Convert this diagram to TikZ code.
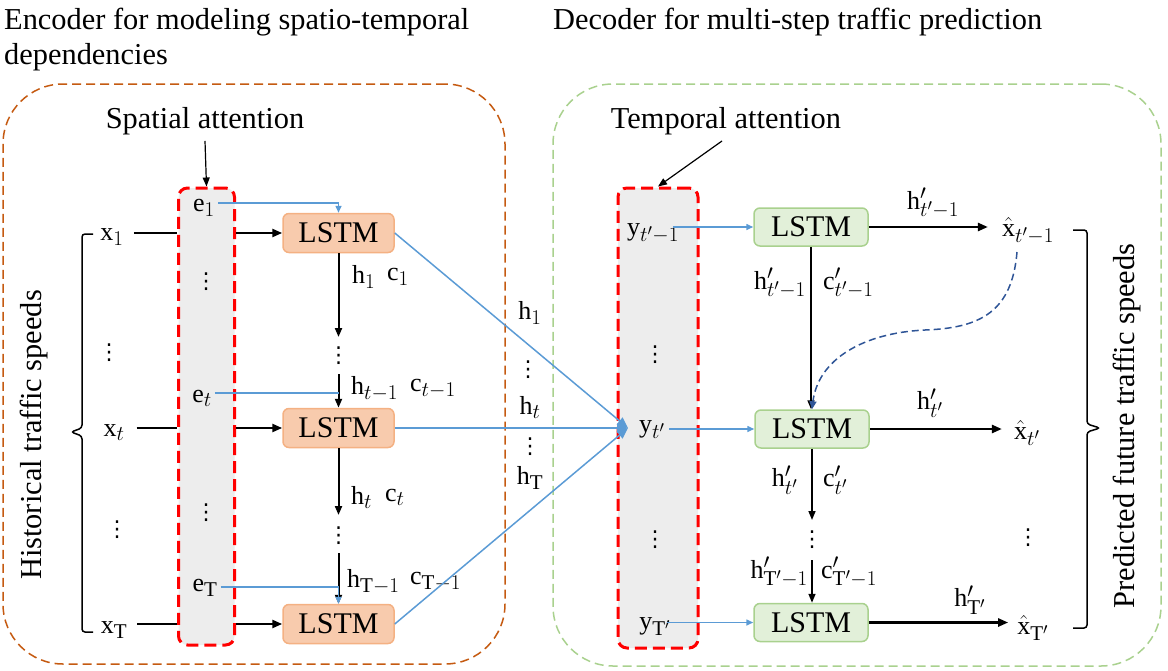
\RequirePackage{fix-cm}
\documentclass[tikz,border=0pt]{standalone}
\usepackage{fontspec}
\setmainfont{Liberation Serif}
\newfontfamily\dejavu{DejaVu Sans}
\usetikzlibrary{arrows.meta,calc}
\DeclareMathSizes{26}{26}{21}{16}
\definecolor{encC}{HTML}{C55A11}
\definecolor{decC}{HTML}{A9D18E}
\definecolor{attC}{HTML}{FF0000}
\definecolor{attF}{HTML}{EDEDED}
\definecolor{lstmOd}{HTML}{F4B183}
\definecolor{lstmOf}{HTML}{F8CBAD}
\definecolor{lstmGd}{HTML}{A9D18E}
\definecolor{lstmGf}{HTML}{E2F0D9}
\definecolor{bluC}{HTML}{5B9BD5}
\definecolor{curC}{HTML}{2F5597}
\newcommand{\myvdots}{{\dejavu\fontsize{22}{26}\selectfont ⋮}}
\begin{document}
\begin{tikzpicture}[x=1pt,y=-1pt,
 lab/.style={font=\fontsize{26}{31}\selectfont, inner sep=0pt},
 txt/.style={font=\fontsize{30.4}{36}\selectfont, inner sep=0pt},
 lstmA/.style={draw=lstmOd, fill=lstmOf, line width=1.5pt, rounded corners=6pt, minimum width=111pt, minimum height=39pt, inner sep=0pt, font=\fontsize{30}{36}\selectfont},
 lstmB/.style={lstmA, draw=lstmGd, fill=lstmGf, minimum width=114pt, minimum height=38pt},
 outerbox/.style={line width=1.5pt, dash pattern=on 9pt off 5pt, rounded corners=60pt, inner sep=0pt},
 attbox/.style={draw=attC, fill=attF, line width=3pt, dash pattern=on 12pt off 6pt, rounded corners=9pt, inner sep=0pt},
 blk/.style={line width=2.4pt, -{Triangle[length=10pt,width=8pt]}},
 blkline/.style={line width=2.4pt},
 vblk/.style={line width=2pt, -{Triangle[length=9pt,width=7pt]}},
 dblk/.style={line width=1.6pt, -{Triangle[length=9pt,width=7pt]}},
 thinarr/.style={line width=1.2pt, -{Triangle[length=9pt,width=7pt]}},
 blu/.style={draw=bluC, line width=1.5pt},
 bluarr/.style={blu, -{Triangle[length=7pt,width=6pt]}},
 bigbluarr/.style={blu, -{Triangle[length=11pt,width=9pt]}},
 brk/.style={line width=1.5pt, rounded corners=3pt}
]
\useasboundingbox (0,0) rectangle (1168,670);

% titles
\node[txt, anchor=base west] (t1) at (4,29) {Encoder for modeling spatio-temporal};
\node[txt, anchor=base west] (t2) at (4,64) {dependencies};
\node[txt, anchor=base west] (t3) at (553,29) {Decoder for multi-step traffic prediction};

% outer boxes
\node[outerbox, draw=encC, minimum width=502pt, minimum height=580pt] (enc) at (254,374) {};
\node[outerbox, draw=decC, minimum width=608pt, minimum height=582pt] (dec) at (857,375) {};

% attention boxes
\node[attbox, minimum width=56pt, minimum height=457pt] (sa) at (206.5,416.5) {};
\node[attbox, minimum width=80pt, minimum height=460pt] (ta) at (658,418) {};

\node[txt] (satxt) at (205,121) {Spatial attention};
\node[txt] (tatxt) at (726,121) {Temporal attention};
\draw[thinarr] ([yshift=-6pt]satxt.south) -- (sa.north);
\draw[thinarr] ([xshift=-4pt,yshift=-6pt]tatxt.south) -- (ta.north);

% side labels
\node[txt, rotate=90] (hist) at (34,435) {Historical traffic speeds};
\node[txt, rotate=90] (pred) at (1127,426) {Predicted future traffic speeds};

% left brace
\draw[brk] (93,234) -- (82,234) -- (82,428) -- (71,432) -- (82,436) -- (82,632) -- (93,632);
% right brace
\draw[brk] (1073,230) -- (1087,230) -- (1087,424) -- (1100,428) -- (1087,432) -- (1087,628) -- (1073,628);

% inputs
\node[lab] (x1) at (112,237) {$\mathrm{x}_1$};
\node[lab] (xd1) at (109,353) {\myvdots};
\node[lab] (xt) at (114,433) {$\mathrm{x}_t$};
\node[lab] (xd2) at (117,530) {\myvdots};
\node[lab] (xT) at (114,630) {$\mathrm{x}_\mathrm{T}$};

% e nodes
\node[lab] (e1) at (204,208) {$\mathrm{e}_1$};
\node[lab] (ed1) at (206,282) {\myvdots};
\node[lab] (et) at (202,398) {$\mathrm{e}_t$};
\node[lab] (ed2) at (206,513) {\myvdots};
\node[lab] (eT) at (205,588) {$\mathrm{e}_\mathrm{T}$};

% encoder LSTMs
\node[lstmA] (L1) at (338.5,233) {LSTM};
\node[lstmA] (L2) at (338.5,428) {LSTM};
\node[lstmA] (L3) at (338.5,624) {LSTM};

% input lines
\draw[blkline] ($(x1.east|-L1.west)+(10,0)$) -- (sa.west|-L1.west);
\draw[blk] (sa.east|-L1.west) -- (L1.west);
\draw[blkline] ($(xt.east|-L2.west)+(12,0)$) -- (sa.west|-L2.west);
\draw[blk] (sa.east|-L2.west) -- (L2.west);
\draw[blkline] ($(xT.east|-L3.west)+(10,0)$) -- (sa.west|-L3.west);
\draw[blk] (sa.east|-L3.west) -- (L3.west);

% encoder vertical chain
\coordinate (a1) at (338.5,337);
\coordinate (b1) at (338.5,374);
\coordinate (a2) at (338.5,515);
\coordinate (b2) at (338.5,553);
\draw[vblk] (L1.south) -- (a1);
\node[lab] (cd1) at (338.5,356) {\myvdots};
\draw[vblk] (b1) -- (L2.north);
\draw[vblk] (L2.south) -- (a2);
\node[lab] (cd2) at (338.5,536) {\myvdots};
\draw[vblk] (b2) -- (L3.north);

% attention to LSTM (blue)
\draw[bluarr] ([xshift=3pt,yshift=5pt]e1.east) -| (L1.north);
\draw[blu] ([xshift=3pt,yshift=5pt]et.east) -- ([yshift=5pt]et.east -| L2.north);
\draw[bluarr] ([xshift=3pt,yshift=1pt]eT.east) -| (L3.north);

% h/c labels encoder
\node[lab, anchor=west] (h1) at (352,277) {$\mathrm{h}_1$};
\node[lab, anchor=west] (c1) at (387,277) {$\mathrm{c}_1$};
\node[lab, anchor=west] (ht1) at (351,389) {$\mathrm{h}_{t-1}$};
\node[lab, anchor=west] (ct1) at (410,389) {$\mathrm{c}_{t-1}$};
\node[lab, anchor=west] (ht) at (351,497) {$\mathrm{h}_t$};
\node[lab, anchor=west] (ct) at (385,497) {$\mathrm{c}_t$};
\node[lab, anchor=west] (hT1) at (347,582) {$\mathrm{h}_{\mathrm{T}-1}$};
\node[lab, anchor=west] (cT1) at (410,582) {$\mathrm{c}_{\mathrm{T}-1}$};

% decoder attention inputs
\node[lab] (y1) at (653,233) {$\mathrm{y}_{t'-1}$};
\node[lab] (yd1) at (655,355) {\myvdots};
\node[lab] (yt) at (652,430) {$\mathrm{y}_{t'}$};
\node[lab] (yd2) at (655,540) {\myvdots};
\node[lab] (yT) at (655,627) {$\mathrm{y}_{\mathrm{T}'}$};

\coordinate (yin) at (628,428);
\draw[bigbluarr] (L1.east) -- (yin);
\draw[bigbluarr] (L2.east) -- (yin);
\draw[bigbluarr] (L3.east) -- (yin);

% middle labels
\node[lab] (mh1) at (530,313) {$\mathrm{h}_1$};
\node[lab] (md1) at (528,370) {\myvdots};
\node[lab] (mht) at (530,407) {$\mathrm{h}_t$};
\node[lab] (md2) at (530,447) {\myvdots};
\node[lab] (mhT) at (530,478) {$\mathrm{h}_\mathrm{T}$};

% decoder LSTMs
\node[lstmB] (G1) at (811,227) {LSTM};
\node[lstmB] (G2) at (812,429) {LSTM};
\node[lstmB] (G3) at (811,622.5) {LSTM};

\draw[bluarr] ([xshift=-6pt]y1.east|-G1.west) -- (G1.west);
\draw[bluarr] ([xshift=4pt]yt.east|-G2.west) -- (G2.west);
\draw[bluarr] ([xshift=-4pt]yT.east|-G3.west) -- (G3.west);

% outputs
\node[lab] (o1) at (1028,231) {$\hat{\mathrm{x}}_{t'-1}$};
\node[lab] (o2) at (1027,433) {$\hat{\mathrm{x}}_{t'}$};
\node[lab] (od) at (1028,538) {\myvdots};
\node[lab] (o3) at (1033,628) {$\hat{\mathrm{x}}_{\mathrm{T}'}$};

\draw[blk, shorten >=14pt] (G1.east) -- (G1.east -| o1.west);
\draw[blk, shorten >=12pt] (G2.east) -- (G2.east -| o2.west);
\draw[blk, shorten >=9pt] (G3.east) -- (G3.east -| o3.west);

\node[lab] (hp1) at (933,203) {$\mathrm{h}'_{t'-1}$};
\node[lab] (hp2) at (930,403) {$\mathrm{h}'_{t'}$};
\node[lab] (hp3) at (970,600) {$\mathrm{h}'_{\mathrm{T}'}$};

% decoder vertical chain
\coordinate (d1) at (812,520);
\coordinate (d2) at (812,560);
\draw[dblk] (G1.south) -- (G1.south|-G2.north);
\draw[dblk] (G2.south) -- (d1);
\node[lab] (dd) at (812,540) {\myvdots};
\draw[dblk] (d2) -- (d2|-G3.north);

\node[lab, anchor=east] (dh1) at (806,283) {$\mathrm{h}'_{t'-1}$};
\node[lab, anchor=west] (dc1) at (823,283) {$\mathrm{c}'_{t'-1}$};
\node[lab, anchor=east] (dh2) at (798,480) {$\mathrm{h}'_{t'}$};
\node[lab, anchor=west] (dc2) at (823,480) {$\mathrm{c}'_{t'}$};
\node[lab, anchor=east] (dh3) at (808,572) {$\mathrm{h}'_{\mathrm{T}'-1}$};
\node[lab, anchor=west] (dc3) at (821,572) {$\mathrm{c}'_{\mathrm{T}'-1}$};

% feedback dashed curve
\coordinate (cm) at (925,330);
\draw[curC, line width=1.5pt, dash pattern=on 7pt off 4pt, -{Triangle[length=8pt,width=7pt]}]
  (1017,252) .. controls (1012,312) and (980,328) .. (cm)
  .. controls (862,333) and (818,360) .. (G2.north);
\end{tikzpicture}
\end{document}
